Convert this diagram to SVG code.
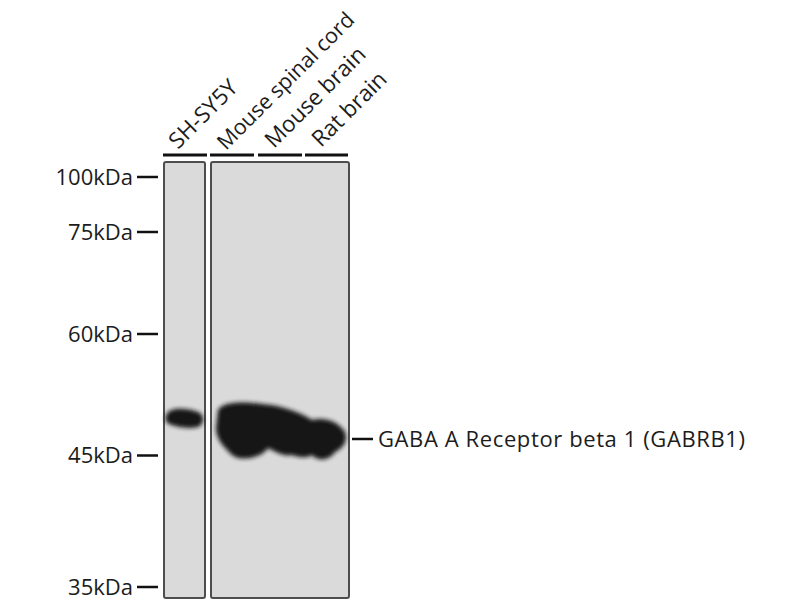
<svg xmlns="http://www.w3.org/2000/svg" width="800" height="600" viewBox="0 0 800 600">
<defs>
<style>
.t{font-family:"Open Sans","Liberation Sans",sans-serif;font-size:22px;fill:#1c1c1c}
.l{font-size:22.5px}
.tick{stroke:#111;stroke-width:2.5}
.bar{stroke:#111;stroke-width:3}
.panel{fill:#dadada;stroke:#4d4d4d;stroke-width:2}
.band{fill:#161616}
</style>
<filter id="blur" x="-20%" y="-40%" width="140%" height="180%"><feGaussianBlur stdDeviation="2"/></filter>
</defs>
<rect width="800" height="600" fill="#fff"/>
<g id="lanes">
<text class="t l" transform="translate(178,150) rotate(-45)">SH-SY5Y</text>
<text class="t" style="font-size:21.5px" transform="translate(226,151) rotate(-45)">Mouse spinal cord</text>
<text class="t l" transform="translate(274,149) rotate(-45)">Mouse brain</text>
<text class="t l" transform="translate(321,148) rotate(-45)">Rat brain</text>
<line class="bar" x1="163" y1="155" x2="207" y2="155"/>
<line class="bar" x1="210" y1="155" x2="254" y2="155"/>
<line class="bar" x1="258" y1="155" x2="302" y2="155"/>
<line class="bar" x1="305" y1="155" x2="348" y2="155"/>
</g>
<g id="panel1">
<rect class="panel" x="164" y="162" width="41" height="436" rx="2"/>
<path class="band" filter="url(#blur)" d="M167 414 C170 407,186 408,198 412 C204 414,205 422,200 426 C192 430,176 427,169 424 C164 421,165 416,167 414 Z"/>
</g>
<g id="panel2">
<rect class="panel" x="211" y="162" width="138" height="436" rx="2"/>
<path class="band" filter="url(#blur)" d="M218 410 C222 402,242 401,262 404 C280 405,300 412,312 420 C322 417,338 420,345 432 C348 440,344 448,335 452 C330 460,318 462,312 455 C308 458,300 458,292 455 C285 457,275 452,268 448 C262 458,240 462,232 455 C225 448,216 440,216 428 Z"/>
</g>
<g id="markers">
<text class="t" x="133" y="184.5" text-anchor="end">100kDa</text>
<line class="tick" x1="137" y1="177" x2="158" y2="177"/>
<text class="t" x="133" y="239.5" text-anchor="end">75kDa</text>
<line class="tick" x1="137" y1="232" x2="158" y2="232"/>
<text class="t" x="133" y="341.5" text-anchor="end">60kDa</text>
<line class="tick" x1="137" y1="334" x2="158" y2="334"/>
<text class="t" x="133" y="463" text-anchor="end">45kDa</text>
<line class="tick" x1="137" y1="455.5" x2="158" y2="455.5"/>
<text class="t" x="133" y="594.5" text-anchor="end">35kDa</text>
<line class="tick" x1="137" y1="587" x2="158" y2="587"/>
</g>
<g id="target">
<line class="tick" x1="352" y1="439" x2="373" y2="439"/>
<text class="t" x="378" y="446.5" textLength="367">GABA A Receptor beta 1 (GABRB1)</text>
</g>
</svg>
